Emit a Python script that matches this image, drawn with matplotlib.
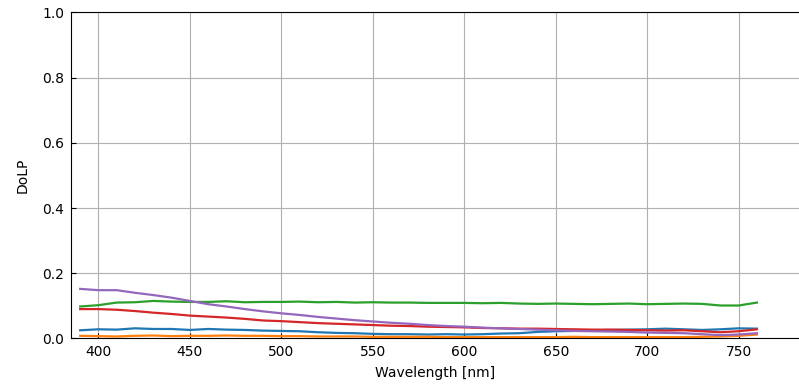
import matplotlib
matplotlib.use("Agg")
import matplotlib.pyplot as plt
import numpy as np

wavelength = np.arange(390, 761, 10)

dolp_blue = [0.025, 0.028, 0.027, 0.031, 0.029, 0.029, 0.026, 0.029, 0.027, 0.026,
             0.024, 0.023, 0.022, 0.019, 0.017, 0.016, 0.014, 0.013, 0.013, 0.012,
             0.013, 0.012, 0.013, 0.015, 0.016, 0.020, 0.022, 0.023, 0.025, 0.026,
             0.027, 0.028, 0.030, 0.028, 0.026, 0.028, 0.031, 0.030]
dolp_orange = [0.008, 0.007, 0.006, 0.008, 0.009, 0.007, 0.008, 0.008, 0.009, 0.008,
               0.008, 0.007, 0.007, 0.006, 0.006, 0.006, 0.005, 0.005, 0.005, 0.005,
               0.004, 0.004, 0.004, 0.004, 0.004, 0.004, 0.004, 0.005, 0.004, 0.004,
               0.004, 0.004, 0.004, 0.004, 0.005, 0.006, 0.008, 0.012]
dolp_green = [0.098, 0.102, 0.110, 0.111, 0.115, 0.113, 0.112, 0.112, 0.114, 0.111,
              0.112, 0.112, 0.113, 0.111, 0.112, 0.110, 0.111, 0.110, 0.110, 0.109,
              0.109, 0.109, 0.108, 0.109, 0.107, 0.106, 0.107, 0.106, 0.105, 0.106,
              0.107, 0.105, 0.106, 0.107, 0.106, 0.101, 0.101, 0.110]
dolp_red = [0.090, 0.090, 0.088, 0.084, 0.079, 0.075, 0.070, 0.067, 0.064, 0.060,
            0.055, 0.053, 0.050, 0.047, 0.045, 0.043, 0.041, 0.039, 0.038, 0.036,
            0.035, 0.034, 0.032, 0.031, 0.030, 0.030, 0.029, 0.028, 0.027, 0.027,
            0.026, 0.025, 0.024, 0.025, 0.022, 0.019, 0.022, 0.028]
dolp_purple = [0.152, 0.148, 0.148, 0.140, 0.133, 0.125, 0.115, 0.105, 0.098, 0.090,
               0.083, 0.077, 0.072, 0.066, 0.061, 0.056, 0.052, 0.048, 0.045, 0.041,
               0.038, 0.036, 0.033, 0.031, 0.029, 0.027, 0.025, 0.023, 0.022, 0.021,
               0.020, 0.018, 0.017, 0.016, 0.013, 0.010, 0.012, 0.016]

series = [dolp_blue, dolp_orange, dolp_green, dolp_red, dolp_purple]


def main():
    fig = plt.figure(figsize=(7.99, 3.89), dpi=100)
    ax = fig.add_axes([0.0889, 0.130, 0.9111, 0.838])

    for values in series:
        ax.plot(wavelength, values, linewidth=1.6)

    ax.set_xlim(385, 783)
    ax.set_ylim(0, 1.0)
    ax.set_xlabel("Wavelength [nm]", labelpad=5)
    ax.set_ylabel("DoLP", labelpad=9)
    ax.grid(True)
    ax.tick_params(direction="in", pad=5)
    ax.spines["right"].set_visible(False)

    fig.savefig("out.png", dpi=100)


if __name__ == "__main__":
    main()
